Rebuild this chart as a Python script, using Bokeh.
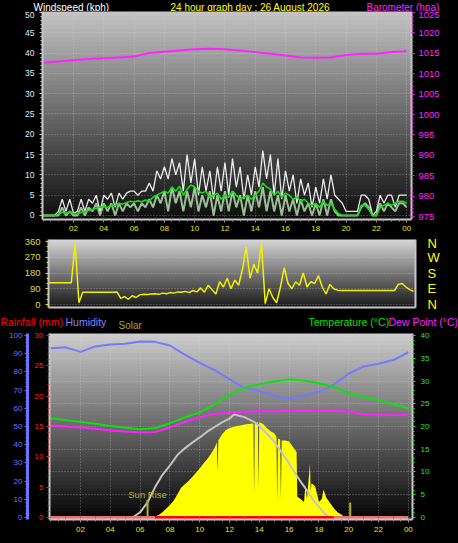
import numpy as np
from bokeh.plotting import figure
from bokeh.layouts import column
from bokeh.models import (Range1d, LinearAxis, FixedTicker, SingleIntervalTicker,
                          BoxAnnotation, Label)
from bokeh.embed import file_html
from bokeh.resources import INLINE

FONT = "Liberation Sans"

# ---------------- data ----------------
t15 = [i / 4 for i in range(97)]          # 15-minute sample times (hours)
tick_hours = [2, 4, 6, 8, 10, 12, 14, 16, 18, 20, 22, 24]
tick_labels = ["02", "04", "06", "08", "10", "12", "14", "16", "18", "20", "22", "00"]

wind_gust = [0, 0, 0, 0, 1, 4, 1, 4,
             0.5, 1, 4, 1, 4, 3, 5, 1,
             5, 4, 5.5, 2, 5.5, 4, 5.5, 6,
             6, 5, 6, 6, 8, 6, 11, 9,
             12, 9, 14, 10, 13, 6, 15, 8,
             14, 5, 12, 6, 11, 4, 12, 6,
             13, 5, 14, 7, 12, 4, 10, 5,
             12, 7, 16, 9, 15, 5, 14, 4,
             11, 6, 10, 3, 9, 5, 8, 2,
             7, 3, 9, 4, 10, 5, 4, 3,
             1, 1, 1, 1, 5, 5, 4, 0,
             1, 5, 3, 5, 5, 2, 5, 5,
             5]
wind_speed = [0, 0, 0, 0, 0, 2, 0, 1,
              0, 0, 2, 0, 2, 1, 3, 0,
              3, 1, 3, 0, 3, 1, 3, 2,
              3, 1, 3, 2, 4, 2, 5, 3,
              6, 1, 7, 3, 6, 1, 6, 2,
              7, 1, 5, 2, 6, 0, 5, 1,
              6, 1, 6, 2, 5, 0, 5, 1,
              6, 2, 7, 1, 6, 1, 5, 0,
              5, 1, 4, 0, 4, 1, 3, 0,
              3, 0, 4, 0, 4, 1, 0, 0,
              0, 0, 0, 0, 2, 3, 2, 0,
              0, 3, 1, 3, 2, 1, 3, 3,
              2]
wind_avg = [0, 0, 0, 0, 0.3, 0.8, 0.5, 1,
            0.5, 0.3, 0.8, 1, 1.2, 1.5, 1.8, 2,
            2.2, 2, 2.5, 2.5, 3, 2.8, 3.2, 3.5,
            3.3, 3.6, 3.4, 3.8, 3.5, 4.5, 5, 5.5,
            6, 5.5, 7, 6, 7.2, 5, 6.5, 7.5,
            7, 6, 5.5, 6, 4.5, 5, 5.5, 4,
            5, 4.5, 6, 5, 4, 4.5, 5, 4,
            5, 6, 8, 7, 6.5, 5, 6, 4.5,
            5.5, 5, 4, 4.5, 3.5, 4, 3, 2.5,
            3, 2, 3.5, 2.5, 3, 1.5, 0.5, 0,
            0, 0, 0, 0, 2.5, 2.5, 1.5, 0,
            0, 2, 2.5, 3, 2.5, 3, 3.5, 3.5,
            3]

baro_t = list(range(25))
barometer = [1012.7, 1013.0, 1013.3, 1013.6, 1013.8, 1014.0, 1014.2, 1015.1, 1015.4,
             1015.7, 1016.0, 1016.1, 1016.0, 1015.7, 1015.3, 1014.9, 1014.5, 1014.0,
             1013.9, 1014.0, 1014.6, 1014.9, 1014.9, 1015.3, 1015.5]

wind_dir = [125, 125, 125, 125, 125, 125, 125, 350,
            10, 70, 70, 70, 70, 70, 70, 70,
            70, 70, 72, 35, 45, 30, 50, 40,
            55, 58, 57, 60, 62, 58, 65, 62,
            68, 65, 72, 70, 75, 68, 80, 72,
            95, 70, 110, 85, 60, 130, 100, 150,
            90, 140, 110, 200, 330, 150, 230, 180,
            350, 5, 90, 40, 10, 100, 210, 120,
            90, 130, 110, 180, 100, 130, 120, 165,
            100, 60, 115, 90, 82, 80, 80, 80,
            80, 80, 80, 80, 80, 80, 80, 80,
            80, 80, 80, 80, 115, 120, 100, 85,
            75]
dir_ticks = [0, 90, 180, 270, 360]
dir_labels = ["N", "E", "S", "W", "N"]

hourly_t = list(range(25))
humidity = [93, 93.5, 91, 94, 95, 95.5, 96.7, 96.5, 94.5, 89.5, 85, 81, 76,
            71, 69.5, 67, 65, 67, 69, 73, 79, 83, 84.5, 86.5, 90.8]
temperature = [21.8, 21.4, 21.0, 20.6, 20.1, 19.7, 19.4, 19.6, 20.7, 22.0, 23.1, 24.8, 27.0,
               28.5, 29.3, 29.9, 30.4, 30.1, 29.5, 28.7, 27.3, 26.5, 25.8, 24.9, 24.0]
dew_point = [20.2, 20.0, 19.8, 19.5, 19.1, 18.9, 18.7, 18.8, 19.8, 21.0, 22.0, 22.8, 23.1,
             23.2, 23.4, 23.3, 23.5, 23.4, 23.5, 23.4, 23.3, 22.7, 22.6, 22.5, 22.6]
rainfall = [0, 0, 0, 0, 0, 0, 0, 0, 0, 0, 0, 0, 0,
            0, 0, 0, 0, 0, 0, 0, 0, 0, 0, 0, 0]

solar_t = [6.75, 7.0, 7.25, 7.5, 7.75, 8.0, 8.25, 8.5, 8.75, 9.0, 9.25, 9.5, 9.75, 10.0,
           10.25, 10.5, 10.75, 11.0, 11.15, 11.2, 11.25, 11.5, 11.75, 12.0, 12.25, 12.5,
           12.75, 13.0, 13.25, 13.6, 13.65, 13.7, 13.9, 13.95, 14.0, 14.25, 14.5, 14.75,
           15.0, 15.15, 15.2, 15.25, 15.4, 15.45, 15.5, 15.75, 16.0, 16.25, 16.5, 16.55,
           16.75, 17.0, 17.1, 17.2, 17.4, 17.45, 17.5, 17.75, 18.0, 18.2, 18.3, 18.5,
           18.75, 19.0, 19.25, 19.5, 19.75]
solar = [0, 10, 25, 50, 85, 120, 160, 220, 285, 320, 350, 390, 430, 470,
         520, 560, 610, 670, 720, 430, 740, 800, 840, 860, 870, 880,
         885, 895, 900, 905, 240, 905, 915, 300, 915, 900, 860, 830,
         810, 780, 160, 760, 750, 180, 740, 740, 730, 680, 630, 200,
         180, 150, 320, 180, 520, 250, 330, 300, 150, 180, 270, 190,
         140, 90, 50, 30, 0]
solar_max_t = [5.5, 6.0, 6.5, 7.0, 7.5, 8.0, 8.5, 9.0, 9.5, 10.0, 10.5, 11.0, 11.5, 12.0,
               12.3, 13.0, 13.7, 14.0, 14.5, 15.0, 15.4, 16.0, 16.3, 16.7, 17.2, 17.6,
               18.1, 18.4, 18.7]
solar_max = [0, 50, 145, 290, 410, 500, 600, 665, 720, 770, 825, 870, 915, 950,
             990, 965, 915, 880, 808, 730, 645, 520, 450, 360, 260, 170, 87, 35, 0]
sun_t = [6.5, 20.1]
sun_marker = [170, 145]

# ---------------- helpers ----------------
W = 458
GRID = "#d8d8d8"
EDGE = "#c8c8c8"


def base_fig(h, xr, yr, left, right, top, bottom, **kw):
    p = figure(width=W, height=h, x_range=xr, y_range=yr, output_backend="svg",
               toolbar_location=None, min_border_left=left, min_border_right=right,
               min_border_top=top, min_border_bottom=bottom, **kw)
    p.background_fill_color = "black"
    p.border_fill_color = "black"
    p.outline_line_color = None
    return p


def strip_fig(h):
    s = figure(width=W, height=h, x_range=Range1d(0, W), y_range=Range1d(0, h),
               output_backend="svg", toolbar_location=None, x_axis_type=None,
               y_axis_type=None, min_border=0, min_border_left=0, min_border_right=0,
               min_border_top=0, min_border_bottom=0)
    s.background_fill_color = "black"
    s.border_fill_color = "black"
    s.outline_line_color = None
    s.grid.visible = False
    return s


def gradient(p, lo, hi, top_rgb, bot_rgb, n=48):
    edges = np.linspace(lo, hi, n + 1)
    step = edges[1] - edges[0]
    for i in range(n):
        f = (i + 0.5) / n
        c = tuple(int(round(b + (t - b) * f)) for t, b in zip(top_rgb, bot_rgb))
        p.add_layout(BoxAnnotation(bottom=edges[i], top=edges[i + 1] + step * 0.6,
                                   fill_color="#%02x%02x%02x" % c, fill_alpha=1.0,
                                   line_alpha=0, level="image"))


def style_axis(ax, color, size, tick_color, line_color, line_width=2, standoff=3,
               tick_out=3, minor_out=2):
    ax.major_label_text_color = color
    ax.major_label_text_font = FONT
    ax.major_label_text_font_size = size
    ax.major_label_standoff = standoff
    ax.major_tick_line_color = tick_color
    ax.minor_tick_line_color = tick_color
    ax.major_tick_out = tick_out
    ax.major_tick_in = 0
    ax.minor_tick_out = minor_out
    ax.minor_tick_in = 0
    ax.axis_line_color = line_color
    ax.axis_line_width = line_width


def style_grid(g):
    g.grid_line_color = GRID
    g.grid_line_alpha = 0.45
    g.grid_line_dash = "1 2"


def title(p, text, x, y, color, size="10.5px"):
    p.add_layout(Label(x=x, y=y, x_units="screen", y_units="screen", text=text,
                       text_color=color, text_font=FONT, text_font_size=size,
                       text_baseline="middle", text_align="left"))


hour_overrides = dict(zip(tick_hours, tick_labels))
half_hours = [i / 2 for i in range(49)]

# ---------------- title strip above panel 1 ----------------
s1 = strip_fig(11)
title(s1, "Windspeed (kph)", 33, 5.5, "white", size="10px")
title(s1, "24 hour graph day : 26 August 2026", 170, 5.5, "#ffff00", size="10px")
title(s1, "Barometer (hpa)", 366, 5.5, "#ff22ff", size="10px")

# ---------------- panel 1: wind speed & barometer ----------------
p1 = base_fig(224, Range1d(-0.05, 24.32), Range1d(-0.99, 50.25), 42, 47, 0, 16)
gradient(p1, -0.99, 50.25, (196, 196, 196), (12, 12, 12))
p1.extra_y_ranges = {"baro": Range1d(974.3, 1025.25)}

p1.line(t15, wind_gust, line_color="white", line_width=1.3, line_alpha=0.9)
p1.line(t15, wind_speed, line_color="#c8f5c0", line_width=2, line_alpha=0.75)
p1.line(t15, wind_avg, line_color="#10e010", line_width=1.6)
p1.line(baro_t, barometer, y_range_name="baro", line_color="#ff22ff", line_width=2)

p1.yaxis.ticker = SingleIntervalTicker(interval=5, num_minor_ticks=5)
style_axis(p1.yaxis[0], "#e0e8ff", "8.5px", EDGE, EDGE, standoff=5)
p1.xaxis.ticker = FixedTicker(ticks=tick_hours, minor_ticks=half_hours)
p1.xaxis.major_label_overrides = hour_overrides
style_axis(p1.xaxis[0], "#e6e61a", "8px", "#909090", EDGE, standoff=3)
baro_axis = LinearAxis(y_range_name="baro",
                       ticker=SingleIntervalTicker(interval=5, num_minor_ticks=5))
style_axis(baro_axis, "#ff22ff", "9.5px", "#ff22ff", EDGE, line_width=2, standoff=4)
p1.add_layout(baro_axis, "right")
p1.xgrid.ticker = FixedTicker(ticks=tick_hours)
style_grid(p1.xgrid[0])
style_grid(p1.ygrid[0])

# ---------------- panel 2: wind direction ----------------
p2 = base_fig(77, Range1d(0, 24.13), Range1d(-17.1, 371.4), 48, 43, 4, 5)
gradient(p2, -17.1, 371.4, (215, 215, 215), (22, 22, 22))
p2.line(t15, wind_dir, line_color="#f0f000", line_width=1.5)

p2.yaxis.ticker = FixedTicker(ticks=dir_ticks, minor_ticks=list(range(0, 361, 30)))
style_axis(p2.yaxis[0], "#dede40", "9.5px", "#dede40", EDGE, standoff=5)
p2.xaxis.ticker = FixedTicker(ticks=[])
style_axis(p2.xaxis[0], "#000000", "8px", None, EDGE, standoff=0, tick_out=0, minor_out=0)
dir_axis = LinearAxis(ticker=FixedTicker(ticks=dir_ticks),
                      major_label_overrides=dict(zip(dir_ticks, dir_labels)))
style_axis(dir_axis, "#ffff00", "13px", None, EDGE, standoff=12, tick_out=0, minor_out=0)
p2.add_layout(dir_axis, "right")
p2.xgrid.visible = False
style_grid(p2.ygrid[0])

# ---------------- title strip above panel 3 ----------------
s3 = strip_fig(17)
title(s3, "Rainfall (mm)", 0, 8, "#ff0000")
title(s3, "Humidity", 65, 8, "#8080ff")
title(s3, "Solar", 118, 4.5, "#a8a828", size="10px")
title(s3, "Temperature (\u00b0C)", 308, 8, "#00e000")
title(s3, "Dew Point (\u00b0C)", 388, 8, "#ff22ff")

# ---------------- panel 3: rain, humidity, solar, temperature ----------------
p3 = base_fig(214, Range1d(-0.08, 24.28), Range1d(-0.44, 40.44), 49, 46, 4, 24,
              y_axis_location="right")
gradient(p3, -0.44, 40.44, (205, 205, 205), (4, 4, 4))
p3.extra_y_ranges = {"rain": Range1d(-0.33, 30.33), "hum": Range1d(-1.1, 101.1),
                     "solar": Range1d(-19.2, 1769.2)}

p3.varea(x=solar_t, y1=0, y2=solar, y_range_name="solar", fill_color="#ffff00")
p3.line(solar_max_t, solar_max, y_range_name="solar", line_color="#c4c4c4", line_width=2)
p3.segment(x0=sun_t, y0=[0, 0], x1=sun_t, y1=sun_marker, y_range_name="solar",
           line_color="#b4b020", line_width=2)
p3.line(hourly_t, humidity, y_range_name="hum", line_color="#7878ff", line_width=2)
p3.line(hourly_t, temperature, line_color="#10e010", line_width=2)
p3.line(hourly_t, dew_point, line_color="#ff22ff", line_width=2)
daylight = [sun_t[0] <= t < solar_max_t[-1] for t in hourly_t[:-1]]
p3.segment(x0=hourly_t[:-1], y0=rainfall[:-1], x1=hourly_t[1:], y1=rainfall[1:],
           y_range_name="rain", line_width=3,
           line_color=["#ff0000" if d else "#f07070" for d in daylight])
p3.add_layout(Label(x=sun_t[0], y=sun_marker[0], y_range_name="solar", text="Sun Rise",
                    text_color="#b4b020", text_font=FONT, text_font_size="9.5px",
                    text_align="center", text_baseline="bottom"))

p3.yaxis.ticker = SingleIntervalTicker(interval=5, num_minor_ticks=5)
style_axis(p3.yaxis[0], "#30e030", "8px", "#30e030", EDGE, standoff=5)
p3.xaxis.ticker = FixedTicker(ticks=tick_hours, minor_ticks=half_hours)
p3.xaxis.major_label_overrides = hour_overrides
style_axis(p3.xaxis[0], "#e6e61a", "8px", "#909090", EDGE, standoff=4)

rain_ticks = [0, 5, 10, 15, 20, 25, 30]
rain_axis = LinearAxis(y_range_name="rain",
                       ticker=SingleIntervalTicker(interval=5, num_minor_ticks=5),
                       major_label_overrides={v: "\u2002" + str(v) for v in rain_ticks})
style_axis(rain_axis, "#ff2020", "8px", "#ff2020", EDGE, standoff=3)
p3.add_layout(rain_axis, "left")
hum_axis = LinearAxis(y_range_name="hum",
                      ticker=SingleIntervalTicker(interval=10, num_minor_ticks=5))
style_axis(hum_axis, "#6c74ff", "8px", "#6c74ff", "#6c74ff", line_width=3, standoff=2)
p3.add_layout(hum_axis, "left")
p3.xgrid.ticker = FixedTicker(ticks=tick_hours)
style_grid(p3.xgrid[0])
style_grid(p3.ygrid[0])

layout = column(*[column(f, spacing=0) for f in (s1, p1, p2, s3, p3)], spacing=0,
                styles={"background-color": "black"})

open("out.html", "w").write(file_html(layout, INLINE))
